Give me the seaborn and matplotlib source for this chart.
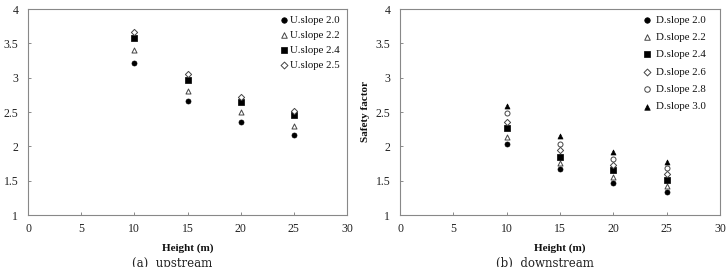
import matplotlib
matplotlib.use("Agg")
import matplotlib.pyplot as plt
import seaborn as sns
import pandas as pd

sns.set_theme(style="white")
plt.rcParams['font.family'] = ['Liberation Serif', 'DejaVu Serif']

heights = [10, 15, 20, 25]

up_labels = ["U.slope 2.0", "U.slope 2.2", "U.slope 2.4", "U.slope 2.5"]
up_2_0 = [3.22, 2.66, 2.36, 2.17]
up_2_2 = [3.40, 2.81, 2.50, 2.30]
up_2_4 = [3.58, 2.97, 2.65, 2.45]
up_2_5 = [3.67, 3.05, 2.72, 2.51]

dn_labels = ["D.slope 2.0", "D.slope 2.2", "D.slope 2.4", "D.slope 2.6", "D.slope 2.8", "D.slope 3.0"]
dn_2_0 = [2.03, 1.67, 1.47, 1.34]
dn_2_2 = [2.14, 1.75, 1.55, 1.42]
dn_2_4 = [2.26, 1.85, 1.65, 1.51]
dn_2_6 = [2.36, 1.94, 1.73, 1.60]
dn_2_8 = [2.48, 2.04, 1.82, 1.68]
dn_3_0 = [2.59, 2.15, 1.92, 1.77]

x_ticks = [0, 5, 10, 15, 20, 25, 30]
y_ticks = [1, 1.5, 2, 2.5, 3, 3.5, 4]
y_tick_labels = ["1", "1.5", "2", "2.5", "3", "3.5", "4"]

# marker styles: (marker, filled)
up_styles = [("o", True), ("^", False), ("s", True), ("D", False)]
dn_styles = [("o", True), ("^", False), ("s", True), ("D", False), ("o", False), ("^", True)]

fig = plt.figure(figsize=(7.28, 2.67), dpi=100)
axL = fig.add_axes([28/728, 1 - 215/267, (347-28)/728, (215-9)/267])
axR = fig.add_axes([400/728, 1 - 215/267, (720-400)/728, (215-9)/267])

def draw(ax, labels, series, styles, caption, spacing, textpad, anchor_x):
    for lab, vals, (mk, filled) in zip(labels, series, styles):
        df = pd.DataFrame({"Height": heights, "SF": vals})
        size = 13 if mk != "D" else 10
        if filled:
            sns.scatterplot(data=df, x="Height", y="SF", ax=ax, marker=mk, s=size,
                            color="black", edgecolor="black", linewidth=0.5, label=lab)
        else:
            sns.scatterplot(data=df, x="Height", y="SF", ax=ax, marker=mk, s=size,
                            facecolor="white", edgecolor="#444444", linewidth=0.7, label=lab)
    ax.set_xlim(0, 30)
    ax.set_ylim(1, 4)
    ax.set_xticks(x_ticks)
    ax.set_yticks(y_ticks)
    ax.set_yticklabels(y_tick_labels)
    ax.tick_params(axis="both", direction="in", length=2.5, width=0.6, labelsize=8.5,
                   bottom=True, left=True, colors="#777777", labelcolor="#222222")
    ax.tick_params(axis="y", pad=7)
    ax.tick_params(axis="x", pad=6)
    for sp in ax.spines.values():
        sp.set_color("#888888")
        sp.set_linewidth(0.8)
    ax.set_xlabel("Height (m)", fontsize=8, fontweight="bold", color="#111111")
    ax.set_ylabel("Safety factor", fontsize=8, fontweight="bold", color="#111111")
    ax.xaxis.set_label_coords(0.5, -0.136)
    ax.yaxis.set_label_coords(-0.094, 0.5)
    leg = ax.legend(loc="upper right", frameon=False, fontsize=7.8, handletextpad=textpad,
                    handlelength=1.0, borderaxespad=0.15, labelspacing=spacing,
                    markerscale=1.1, bbox_to_anchor=(anchor_x, 1.0))
    for t in leg.get_texts():
        t.set_color("#111111")
    ax.text(0.453, -0.235, caption, transform=ax.transAxes, ha="center", va="center",
            fontsize=8.5, family=["DejaVu Serif"], color="#222222")

draw(axL, up_labels, [up_2_0, up_2_2, up_2_4, up_2_5], up_styles, "(a)  upstream", 0.5, 0.0, 0.995)
draw(axR, dn_labels, [dn_2_0, dn_2_2, dn_2_4, dn_2_6, dn_2_8, dn_3_0], dn_styles,
     "(b)  downstream", 0.72, 0.35, 0.975)

fig.savefig("out.png", dpi=100)
